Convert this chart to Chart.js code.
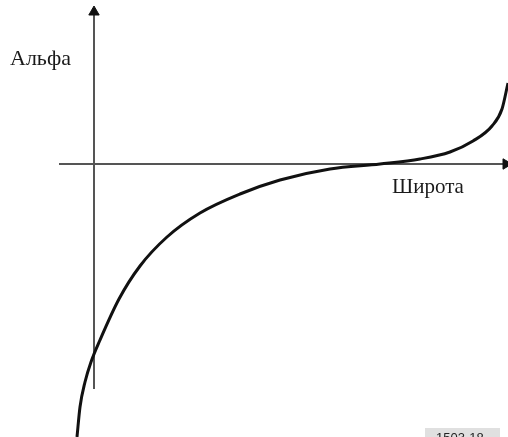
<!DOCTYPE html>
<html>
<head>
<meta charset="utf-8">
<script src="https://cdn.jsdelivr.net/npm/chart.js@4/dist/chart.umd.min.js"></script>
<style>
    html, body { margin: 0; padding: 0; background: #fff; }
    #chart-alpha { display: block; }
</style>
</head>
<body>
<canvas id="chart-alpha" width="508" height="437"></canvas>
<script>
/*
/----------------------------------------
/- grafik alfa terhadap lintang
/- id canvas = chart-alpha
/----------------------------------------
*/

// data kurva (x = lintang, y = alfa), titik asal = perpotongan sumbu
const curveLat = [-17, -14, -9, -3, 6, 25, 46, 73, 106, 146, 186, 236, 286, 326, 356, 379, 398, 408, 414];
const curveAlpha = [-273, -243, -218, -198, -176, -135, -102, -73, -49, -30, -16, -5, 0, 5, 12, 23, 38, 55, 81];

// sumbu
const axisXLat = [-35, 412];
const axisYAlpha = [-225, 152];

// label teks
const labelY = "Альфа";
const labelX = "Широта";
const labelFig = "1503-18";

// setup chart
const dataAlpha = {
    datasets: [
        {
            label: "curve",
            data: curveLat.map((x, i) => ({ x: x, y: curveAlpha[i] })),
            borderColor: "#111",
            borderWidth: 3,
            pointRadius: 0,
            cubicInterpolationMode: "monotone",
            showLine: true,
            fill: false,
        },
        {
            label: "axis-x",
            data: axisXLat.map((x) => ({ x: x, y: 0 })),
            borderColor: "#555",
            borderWidth: 2,
            showLine: true,
            pointStyle: "triangle",
            pointRadius: [0, 6],
            pointRotation: 90,
            pointBackgroundColor: "#111",
            pointBorderColor: "#111",
            pointBorderWidth: 1,
        },
        {
            label: "axis-y",
            data: axisYAlpha.map((y) => ({ x: 0, y: y })),
            borderColor: "#555",
            borderWidth: 2,
            showLine: true,
            pointStyle: "triangle",
            pointRadius: [0, 6],
            pointBackgroundColor: "#111",
            pointBorderColor: "#111",
            pointBorderWidth: 1,
        },
    ],
};

// plugin teks
const textPlugin = {
    id: "textLabels",
    afterDraw(chart) {
        const c = chart.ctx;
        c.save();
        c.fillStyle = "#1a1a1a";
        c.textBaseline = "alphabetic";
        c.font = '22px "Liberation Serif", "DejaVu Serif", serif';
        c.fillText(labelY, 10, 65);
        c.font = '21px "Liberation Serif", "DejaVu Serif", serif';
        c.fillText(labelX, 392, 193);
        c.fillStyle = "#e0e0e0";
        c.fillRect(425, 428, 75, 12);
        c.fillStyle = "#222";
        c.font = '13px "Liberation Sans", Arial, sans-serif';
        c.fillText(labelFig, 436, 442);
        c.restore();
    },
};

// config
const configAlpha = {
    type: "scatter",
    data: dataAlpha,
    plugins: [textPlugin],
    options: {
        responsive: false,
        animation: false,
        layout: { padding: 0, autoPadding: false },
        plugins: {
            legend: { display: false },
            tooltip: { enabled: false },
        },
        scales: {
            x: { type: "linear", min: -94, max: 414, display: false },
            y: { type: "linear", min: -273, max: 164, display: false },
        },
    },
};

// render init block
const ctx = document.getElementById("chart-alpha");
new Chart(ctx, configAlpha);
</script>
</body>
</html>
